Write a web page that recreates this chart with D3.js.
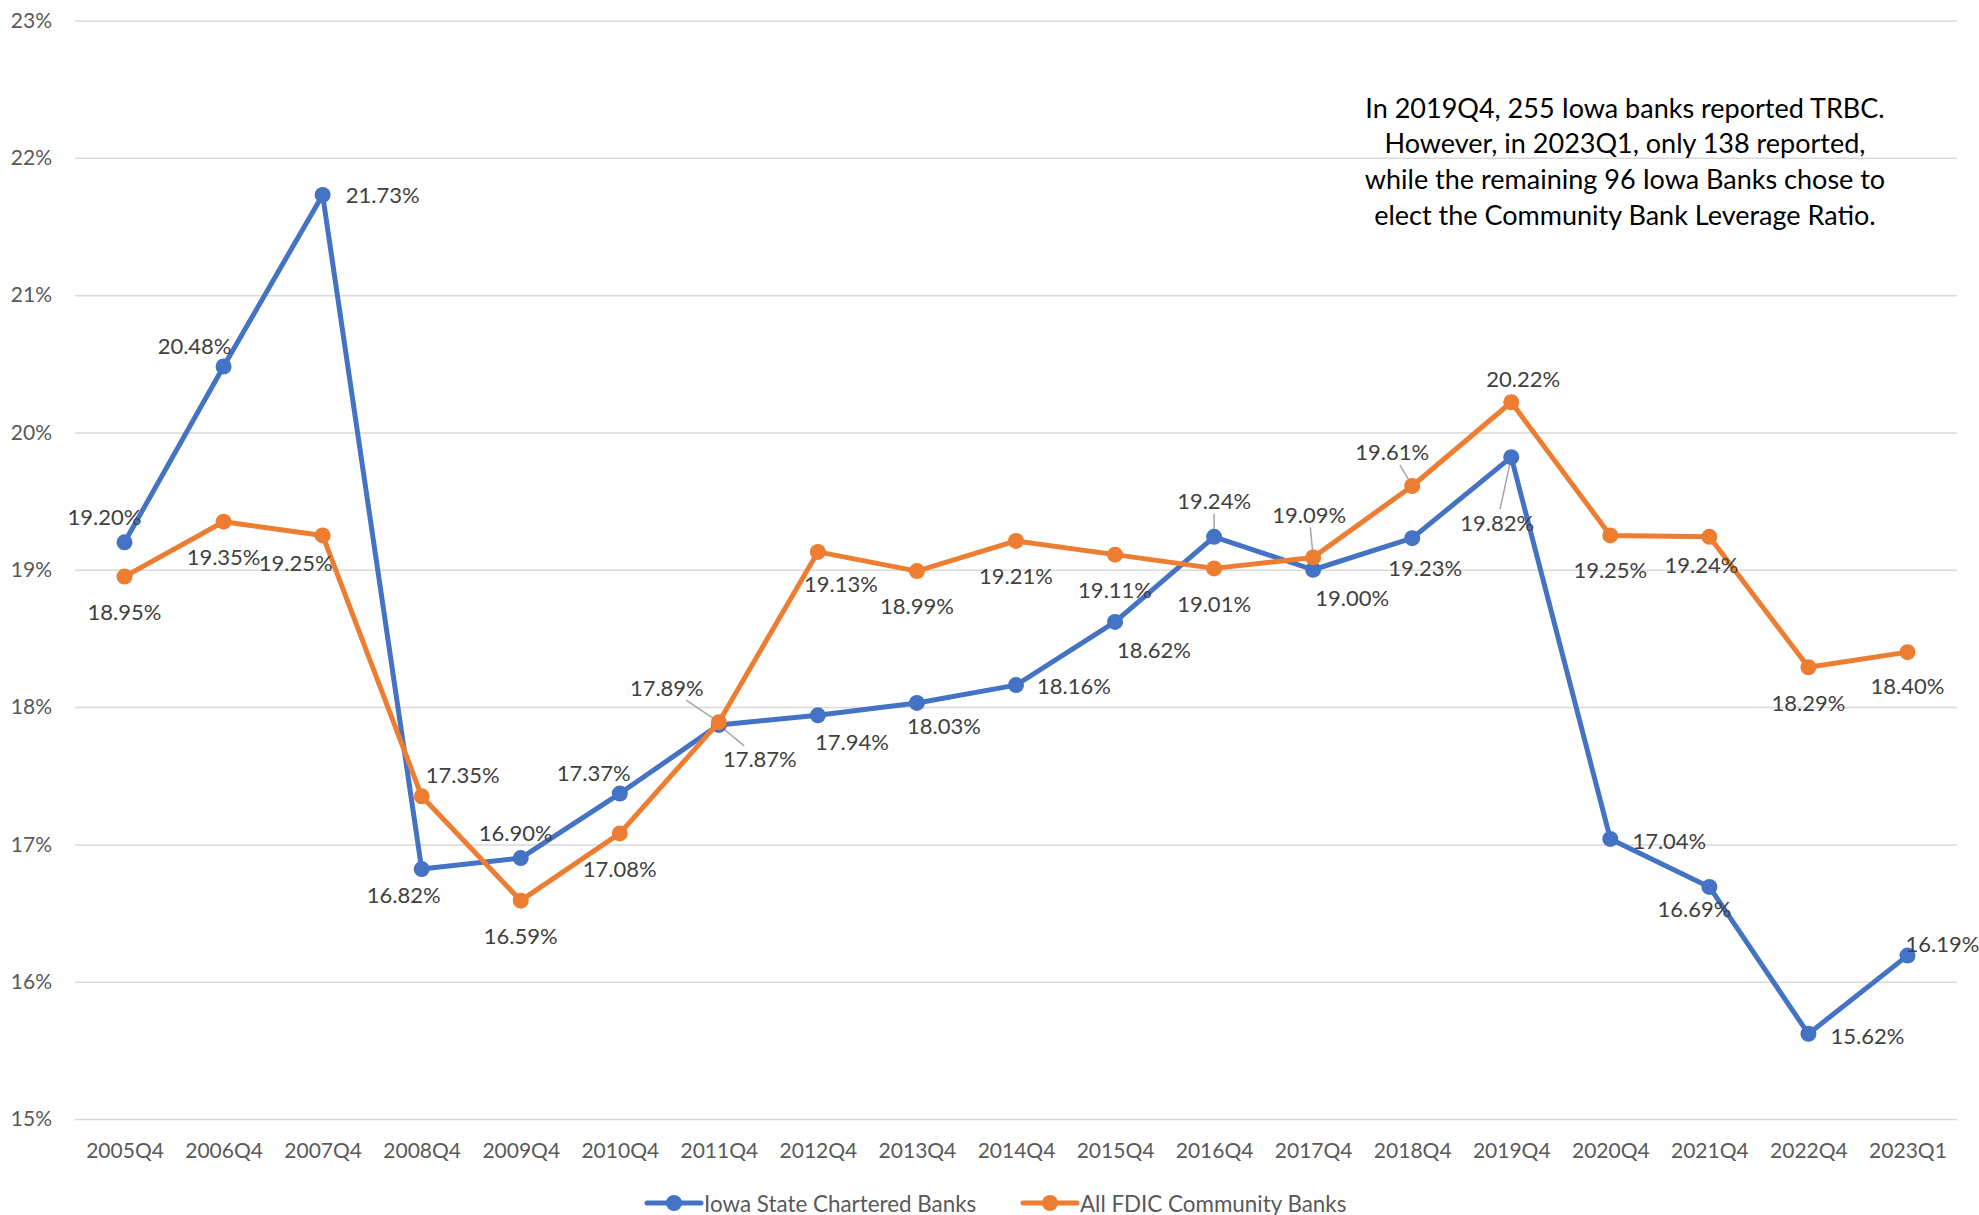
<!DOCTYPE html>
<html>
<head>
<meta charset="utf-8">
<script src="https://cdn.jsdelivr.net/npm/d3@7"></script>
<style>
  body { margin: 0; background: #fff; }
</style>
</head>
<body>
<div id="playground"></div>
<script>
// Data
var categories = ['2005Q4', '2006Q4', '2007Q4', '2008Q4', '2009Q4', '2010Q4', '2011Q4', '2012Q4', '2013Q4', '2014Q4',
  '2015Q4', '2016Q4', '2017Q4', '2018Q4', '2019Q4', '2020Q4', '2021Q4', '2022Q4', '2023Q1']

var iowaValues = [19.20, 20.48, 21.73, 16.82, 16.90, 17.37, 17.87, 17.94, 18.03, 18.16,
  18.62, 19.24, 19.00, 19.23, 19.82, 17.04, 16.69, 15.62, 16.19]

var fdicValues = [18.95, 19.35, 19.25, 17.35, 16.59, 17.08, 17.89, 19.13, 18.99, 19.21,
  19.11, 19.01, 19.09, 19.61, 20.22, 19.25, 19.24, 18.29, 18.40]

var yTicks = [15, 16, 17, 18, 19, 20, 21, 22, 23]

var seriesNames = ['Iowa State Chartered Banks', 'All FDIC Community Banks']

var noteLines = [
  'In 2019Q4, 255 Iowa banks reported TRBC.',
  'However, in 2023Q1, only 138 reported,',
  'while the remaining 96 Iowa Banks chose to',
  'elect the Community Bank Leverage Ratio.'
]

// Settings
var settings = {}
settings.width = 1979
settings.height = 1215
settings.left = 75
settings.right = 1957
settings.top = 20.5
settings.bottom = 1119
settings.font = 'Lato, "Open Sans", sans-serif'
settings.axis_font_size = 21
settings.label_font_size = 22
settings.legend_font_size = 22.4
settings.note_font_size = 27
settings.line_width = 5
settings.marker_r = 8
settings.colors = ['#4472C4', '#ED7D31']

// Data label offsets (label centre relative to its point), [dx, dy, leader]
var iowaLabelPos = [[-20, -26], [-29, -21], [60, 0], [-18, 25], [-5, -26], [-26, -21], [41, 34, 1], [34, 26], [27, 23], [58, 0],
  [39, 28], [0, -36, 1], [39, 28], [13, 29], [-14, 65, 1], [59, 2], [-15, 22], [59, 2], [35, -12]]
var fdicLabelPos = [[0, 35], [0, 35], [-27, 27], [41, -22], [0, 35], [0, 35], [-52, -35, 1], [23, 32], [0, 34], [0, 35],
  [0, 35], [0, 35], [-4, -43, 1], [-20, -34, 1], [12, -24], [0, 34], [-8, 28], [0, 35], [0, 33]]

var svg = d3.select('#playground').append('svg')
  .attr('width', settings.width)
  .attr('height', settings.height)
  .style('font-family', settings.font)

svg.append('rect')
  .attr('width', settings.width)
  .attr('height', settings.height)
  .attr('fill', '#fff')

var x = d3.scalePoint()
  .domain(categories)
  .range([settings.left, settings.right])
  .padding(0.5)

var y = d3.scaleLinear()
  .domain([15, 23])
  .range([settings.bottom, settings.top])

// Y axis + gridlines
var yAxis = svg.append('g')
  .attr('transform', 'translate(' + settings.left + ',0)')
  .call(d3.axisLeft(y)
    .tickValues(yTicks)
    .tickSize(-(settings.right - settings.left))
    .tickPadding(23)
    .tickFormat(function(d) { return d + '%' }))
yAxis.select('.domain').remove()
yAxis.selectAll('line').attr('stroke', '#D9D9D9').attr('stroke-width', 1.5)
yAxis.selectAll('text')
  .attr('fill', '#595959')
  .style('font-size', settings.axis_font_size + 'px')
  .style('font-family', settings.font)

// X axis
var xAxis = svg.append('g')
  .attr('transform', 'translate(0,' + settings.bottom + ')')
  .call(d3.axisBottom(x).tickSize(0).tickPadding(24))
xAxis.select('.domain').remove()
xAxis.selectAll('text')
  .attr('fill', '#595959')
  .style('font-size', settings.axis_font_size + 'px')
  .style('font-family', settings.font)

// Series
var series = [
  { values: iowaValues, labels: iowaLabelPos, color: settings.colors[0] },
  { values: fdicValues, labels: fdicLabelPos, color: settings.colors[1] }
]

var line = d3.line()
  .x(function(d, i) { return x(categories[i]) })
  .y(function(d) { return y(d) })

// Leader lines go under the markers
var leaders = svg.append('g')

series.forEach(function(s) {
  svg.append('path')
    .attr('d', line(s.values))
    .attr('fill', 'none')
    .attr('stroke', s.color)
    .attr('stroke-width', settings.line_width)
    .attr('stroke-linejoin', 'round')

  svg.append('g').selectAll('circle')
    .data(s.values)
    .join('circle')
    .attr('cx', function(d, i) { return x(categories[i]) })
    .attr('cy', function(d) { return y(d) })
    .attr('r', settings.marker_r)
    .attr('fill', s.color)
})

series.forEach(function(s) {
  s.values.forEach(function(v, i) {
    var px = x(categories[i])
    var py = y(v)
    var p = s.labels[i]
    var lx = px + p[0]
    var ly = py + p[1]

    if (p[2]) {
      var t = Math.min(p[0] ? 38 / Math.abs(p[0]) : 1, p[1] ? 13 / Math.abs(p[1]) : 1)
      leaders.append('line')
        .attr('x1', lx - p[0] * t)
        .attr('y1', ly - p[1] * t)
        .attr('x2', px - p[0] * 0.1)
        .attr('y2', py - p[1] * 0.1)
        .attr('stroke', '#A6A6A6')
        .attr('stroke-width', 1.5)
    }

    svg.append('text')
      .attr('x', lx)
      .attr('y', ly)
      .attr('text-anchor', 'middle')
      .attr('dominant-baseline', 'central')
      .attr('fill', '#404040')
      .style('font-size', settings.label_font_size + 'px')
      .text(v.toFixed(2) + '%')
  })
})

// Legend
var legendItems = [
  { name: seriesNames[0], x0: 647, color: settings.colors[0] },
  { name: seriesNames[1], x0: 1023, color: settings.colors[1] }
]
var legendY = 1203
legendItems.forEach(function(l) {
  svg.append('line')
    .attr('x1', l.x0).attr('x2', l.x0 + 54)
    .attr('y1', legendY).attr('y2', legendY)
    .attr('stroke', l.color)
    .attr('stroke-width', settings.line_width)
    .attr('stroke-linecap', 'round')
  svg.append('circle')
    .attr('cx', l.x0 + 27).attr('cy', legendY)
    .attr('r', settings.marker_r)
    .attr('fill', l.color)
  svg.append('text')
    .attr('x', l.x0 + 57)
    .attr('y', legendY)
    .attr('dominant-baseline', 'central')
    .attr('fill', '#595959')
    .style('font-size', settings.legend_font_size + 'px')
    .text(l.name)
})

// Note
svg.append('g').selectAll('text')
  .data(noteLines)
  .join('text')
  .attr('x', 1625)
  .attr('y', function(d, i) { return 107 + i * 35.7 })
  .attr('text-anchor', 'middle')
  .attr('dominant-baseline', 'central')
  .attr('fill', '#000')
  .style('font-size', settings.note_font_size + 'px')
  .text(function(d) { return d })
</script>
</body>
</html>
